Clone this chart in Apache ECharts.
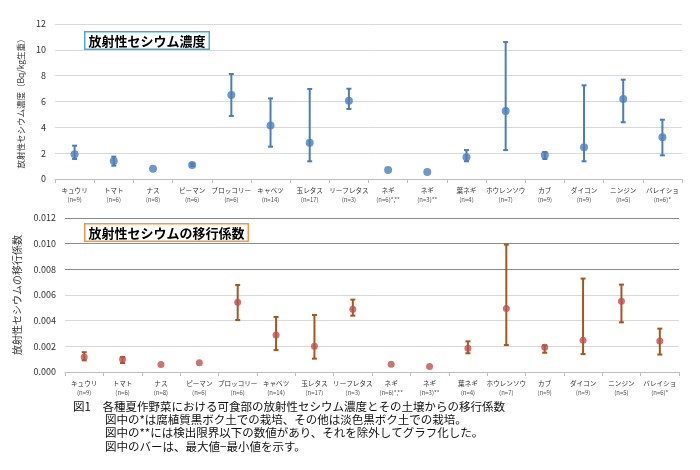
<!DOCTYPE html>
<html><head><meta charset="utf-8">
<script src="https://cdn.jsdelivr.net/npm/echarts@6/dist/echarts.min.js"></script>
<style>html,body{margin:0;padding:0;background:#fff}#c{width:700px;height:470px}</style>
</head><body><div id="c"></div>
<script>
var categories = ['キュウリ','トマト','ナス','ピーマン','ブロッコリー','キャベツ','玉レタス','リーフレタス','ネギ','ネギ','葉ネギ','ホウレンソウ','カブ','ダイコン','ニンジン','バレイショ'];
var nLabels = ['(n=9)','(n=6)','(n=8)','(n=6)','(n=6)','(n=14)','(n=17)','(n=3)','(n=6)*,**','(n=3)**','(n=4)','(n=7)','(n=9)','(n=9)','(n=5)','(n=6)*'];
var concMean = [1.91,1.39,0.80,1.08,6.50,4.15,2.81,6.06,0.70,0.54,1.68,5.26,1.86,2.45,6.19,3.23];
var concMin  = [1.55,1.03,null,1.00,4.88,2.50,1.37,5.42,null,null,1.37,2.24,1.55,1.37,4.39,1.83];
var concMax  = [2.58,1.73,null,1.20,8.13,6.24,6.97,6.99,null,null,2.24,10.6,2.09,7.25,7.69,4.59];
var tfMean = [0.00117,0.00099,0.00058,0.00073,0.00543,0.00288,0.00200,0.00489,0.00060,0.00042,0.00185,0.00494,0.00192,0.00247,0.00551,0.00242];
var tfMin  = [0.00091,0.00070,null,null,0.00405,0.00171,0.00104,0.00439,null,null,0.00146,0.00210,0.00150,0.00140,0.00387,0.00136];
var tfMax  = [0.00154,0.00117,null,null,0.00678,0.00429,0.00444,0.00564,null,null,0.00239,0.00993,0.00208,0.00728,0.00681,0.00338];
var captionLines = [
  '図1　各種夏作野菜における可食部の放射性セシウム濃度とその土壌からの移行係数',
  '図中の*は腐植質黒ボク土での栽培、その他は淡色黒ボク土での栽培。',
  '図中の**には検出限界以下の数値があり、それを除外してグラフ化した。',
  '図中のバーは、最大値−最小値を示す。'
];

var FONT = '"Noto Sans CJK JP", "Noto Sans", sans-serif';
var chart = echarts.init(document.getElementById('c'), null, {renderer:'canvas'});

function rangeData(mins, maxs){
  var out = [];
  for (var i=0;i<mins.length;i++){ if (mins[i]!=null && maxs[i]!=null) out.push([i, mins[i], maxs[i]]); }
  return out;
}
function errRender(color, lw){
  return function(params, api){
    var x = api.value(0);
    var lo = api.coord([x, api.value(1)]);
    var hi = api.coord([x, api.value(2)]);
    var hw = 2.5;
    var st = {stroke: color, lineWidth: lw};
    return {type:'group', children:[
      {type:'line', shape:{x1:lo[0],y1:lo[1],x2:hi[0],y2:hi[1]}, style:st},
      {type:'line', shape:{x1:hi[0]-hw,y1:hi[1],x2:hi[0]+hw,y2:hi[1]}, style:st},
      {type:'line', shape:{x1:lo[0]-hw,y1:lo[1],x2:lo[0]+hw,y2:lo[1]}, style:st}
    ]};
  };
}
var catLabels = categories.map(function(c,i){ return c + '\n' + nLabels[i]; });
function xAxisCfg(gi){
  return {
    type:'category', gridIndex:gi, data: catLabels, boundaryGap:true,
    axisLine:{lineStyle:{color:'#bfbfbf', width:1}},
    axisTick:{show:true, interval:0, length:4, lineStyle:{color:'#bfbfbf'}},
    axisLabel:{interval:0, margin:6, fontFamily:FONT, color:'#333',
      formatter:function(v){ var p=v.split('\n'); return '{a|'+p[0]+'}\n{b|'+p[1]+'}'; },
      rich:{a:{fontSize:6.6, fontFamily:FONT, color:'#333', lineHeight:10},
            b:{fontSize:6, fontFamily:FONT, color:'#555', lineHeight:9}}}
  };
}

chart.setOption({
  animation:false,
  backgroundColor:'#fff',
  grid:[
    {left:55, right:18, top:24, height:155, containLabel:false},
    {left:65, right:21, top:218, height:154, containLabel:false}
  ],
  xAxis:[ xAxisCfg(0), xAxisCfg(1) ],
  yAxis:[
    {type:'value', gridIndex:0, min:0, max:12, interval:2,
     name:'放射性セシウム濃度（Bq/kg生重）', nameLocation:'middle', nameGap:22, nameRotate:90,
     nameTextStyle:{fontFamily:FONT, fontSize:8.5, color:'#333'},
     axisLine:{show:false}, axisTick:{show:false},
     axisLabel:{fontFamily:FONT, fontSize:9, color:'#333', margin:9},
     splitLine:{lineStyle:{color:'#d9d9d9', width:1}}},
    {type:'value', gridIndex:1, min:0, max:0.012, interval:0.002,
     name:'放射性セシウムの移行係数', nameLocation:'middle', nameGap:35, nameRotate:90,
     nameTextStyle:{fontFamily:FONT, fontSize:10, color:'#333'},
     axisLine:{show:false}, axisTick:{show:false},
     axisLabel:{fontFamily:FONT, fontSize:9, color:'#333', margin:9,
       formatter:function(v){ return v.toFixed(3); }},
     splitLine:{lineStyle:{color:['#d9d9d9','#d9d9d9','#d9d9d9','#d9d9d9','#8c8c8c','#8c8c8c','#8c8c8c'], width:1}}}
  ],
  series:[
    {type:'custom', xAxisIndex:0, yAxisIndex:0, renderItem:errRender('#4a7ebb',2),
     data: rangeData(concMin, concMax), encode:{x:0,y:[1,2]}, z:2},
    {type:'scatter', xAxisIndex:0, yAxisIndex:0, data: concMean, symbolSize:8,
     itemStyle:{color:'#4a7ebb'}, z:3},
    {type:'custom', xAxisIndex:1, yAxisIndex:1, renderItem:errRender('#a8561c',2),
     data: rangeData(tfMin, tfMax), encode:{x:0,y:[1,2]}, z:2},
    {type:'scatter', xAxisIndex:1, yAxisIndex:1, data: tfMean, symbolSize:7,
     itemStyle:{color:'#c0504d'}, z:3}
  ],
  graphic:[
    {type:'text', left:84, top:31, z:10,
     style:{text:'放射性セシウム濃度', fontFamily:FONT, fontSize:13, fontWeight:'bold', fill:'#000',
            backgroundColor:'#fff', borderColor:'#4bacc6', borderWidth:1.5, padding:[2,3,1,3]}},
    {type:'text', left:84, top:223, z:10,
     style:{text:'放射性セシウムの移行係数', fontFamily:FONT, fontSize:13, fontWeight:'bold', fill:'#000',
            backgroundColor:'#fff', borderColor:'#f79646', borderWidth:1.5, padding:[2,3,1,3]}},
    {type:'text', left:73, top:401, style:{text:captionLines[0], fontFamily:FONT, fontSize:11.5, fill:'#111'}},
    {type:'text', left:105, top:414, style:{text:captionLines[1], fontFamily:FONT, fontSize:11.5, fill:'#111'}},
    {type:'text', left:105, top:427, style:{text:captionLines[2], fontFamily:FONT, fontSize:11.5, fill:'#111'}},
    {type:'text', left:105, top:441, style:{text:captionLines[3], fontFamily:FONT, fontSize:11.5, fill:'#111'}}
  ]
});
</script></body></html>
